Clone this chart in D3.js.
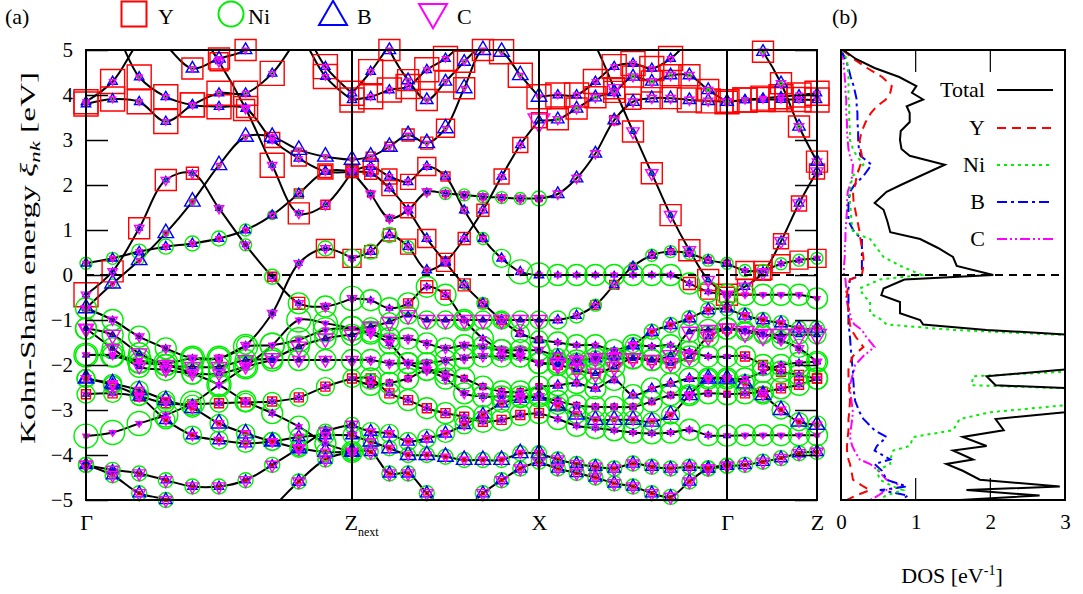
<!DOCTYPE html>
<html>
<head>
<meta charset="utf-8">
<script src="https://cdn.jsdelivr.net/npm/d3@7"></script>
<style>
  body { margin: 0; background: #fff; }
  text { font-family: "Liberation Serif", "Times New Roman", serif; fill: #000; }
</style>
</head>
<body>
<svg id="chart" width="1083" height="594"></svg>
<script>
// high symmetry points of the k-path
var kLabels = ["Γ", "Z", "X", "Γ", "Z"];
var kSubs = ["", "next", "", "", ""];
var kTicks = [0, 2.66, 4.53, 6.41, 7.31];
var kSteps = [10, 10, 10, 5];
var energyTicks = [-5, -4, -3, -2, -1, 0, 1, 2, 3, 4, 5];
var dosTicks = [0, 1, 2, 3];

// band energies (eV) at the k-points of each segment
// weights: [Y, Ni, B, C] marker sizes, one digit (constant) or one digit per k-point
var seg1Bands = [
  [3.85, 4.30, 5.20, 5.80, 6, 6, 6, 6, 5.60, 4.63, 4.04],
  [6, 6, 6, 6, 6, 6, 6, 6, 5.40, 4.41, 3.89],
  [3.80, 3.91, 3.85, 3.41, 3.78, 4.04, 4.04, 4.48, 5.30, 6, 6],
  [6, 6, 5.60, 5.10, 4.59, 4.81, 5.00, 5.60, 6, 6, 6],
  [6, 5.50, 4.40, 3.96, 3.78, 3.74, 3.70, 3.00, 2.59, 2.30, 2.30],
  [6, 6, 6, 6, 5.60, 4.74, 3.70, 2.44, 1.37, 1.56, 2.30],
  [-0.74, -0.19, 0.33, 0.93, 1.63, 2.44, 3.07, 3.07, 2.78, 2.63, 2.56],
  [-0.44, 0.08, 1.04, 2.11, 2.26, 1.48, 0.67, -0.04, -0.63, -0.70, -0.52],
  [0.26, 0.37, 0.52, 0.63, 0.70, 0.81, 1.00, 1.33, 1.81, 2.30, 2.30],
  [-0.74, -1.00, -1.37, -1.63, -1.85, -1.85, -1.56, -0.85, 0.26, 0.59, 0.37],
  [-1.19, -1.33, -1.74, -2.00, -2.04, -2.04, -1.89, -1.85, -1.59, -1.41, -1.33],
  [-1.19, -1.63, -2.04, -2.11, -2.19, -2.19, -2.04, -1.90, -1.89, -1.89, -1.89],
  [-1.78, -1.78, -1.90, -1.96, -1.85, -1.85, -1.59, -1.56, -1.44, -1.22, -1.19],
  [-1.78, -1.80, -1.95, -2.00, -2.19, -2.44, -2.81, -3.07, -3.37, -3.74, -3.93],
  [-3.58, -3.50, -3.30, -3.11, -2.85, -2.44, -2.04, -1.56, -1.00, -1.07, -1.19],
  [-2.65, -2.63, -2.70, -2.85, -2.87, -2.85, -2.83, -2.81, -2.72, -2.48, -2.30],
  [-2.30, -2.41, -2.56, -2.78, -2.96, -3.30, -3.52, -3.70, -3.85, -3.93, -3.93],
  [-2.30, -2.45, -2.70, -3.22, -3.56, -3.67, -3.74, -3.70, -3.60, -3.56, -3.56],
  [-4.22, -4.33, -4.41, -4.56, -4.70, -4.70, -4.56, -4.22, -3.85, -3.48, -3.33],
  [-4.22, -4.45, -4.85, -5.00, -5.40, -6, -6, -5.20, -4.59, -4.10, -3.93]
];
var seg1Weights = [
  ["8", "0", "3", "2"], ["8", "0", "3", "2"], ["8", "1", "3", "2"], ["7", "1", "4", "2"],
  ["88888865544", "1", "3", "2"], ["66666688733", "1", "2", "3"],
  ["1", "33322111111", "5", "2"], ["87774113421", "00011245778", "2", "3"],
  ["11111112354", "44555543321", "3", "2"], ["11111211166", "77777762156", "2", "3"],
  ["1", "7", "2", "5"], ["1", "7", "2", "4"], ["1", "8", "1", "2"], ["1", "7", "2", "2"],
  ["1", "8", "1", "2"], ["3", "6", "2", "2"], ["1", "6", "5", "3"], ["1", "6", "4", "3"],
  ["1", "5", "3", "4"], ["1", "5", "4", "4"]
];

var seg2Bands = [
  [4.04, 4.52, 5.10, 5.60, 6, 6, 6, 6, 6, 6, 6],
  [3.89, 3.96, 4.11, 4.19, 4.56, 4.81, 5.20, 5.60, 6, 6, 6],
  [6, 6, 5.00, 4.33, 3.89, 4.30, 4.74, 5.20, 6, 6, 6],
  [2.56, 2.63, 2.85, 3.11, 2.93, 3.26, 4.15, 5.00, 4.96, 4.44, 3.96],
  [2.30, 2.41, 2.19, 2.07, 2.41, 2.19, 1.44, 0.81, 0.37, 0.07, 0.00],
  [2.30, 2.26, 1.93, 1.44, 0.81, 0.28, -0.22, -0.63, -1.00, -1.30, -1.44],
  [2.30, 1.80, 1.26, 1.44, 1.85, 1.81, 1.78, 1.74, 1.72, 1.70, 1.70],
  [0.37, 0.52, 0.89, 0.63, 0.11, 0.30, 0.81, 1.44, 2.19, 2.89, 3.44],
  [-0.52, -0.56, -0.74, -0.63, -0.26, -0.44, -1.00, -1.41, -1.67, -1.81, -1.96],
  [-1.19, -1.15, -1.04, -0.89, -1.00, -1.00, -1.00, -1.00, -1.00, -1.00, -1.00],
  [-1.33, -1.26, -1.40, -1.41, -1.52, -1.63, -1.56, -1.60, -1.67, -1.67, -1.67],
  [-1.89, -1.89, -1.96, -1.96, -1.96, -1.90, -1.85, -1.81, -1.81, -1.81, -1.96],
  [-1.19, -1.30, -1.52, -1.96, -2.11, -2.30, -2.63, -2.70, -2.70, -2.70, -2.70],
  [-2.30, -2.44, -2.40, -2.30, -2.11, -2.19, -2.30, -2.48, -2.59, -2.59, -2.48],
  [-2.30, -2.30, -2.63, -2.78, -2.96, -3.07, -3.15, -3.26, -3.22, -3.11, -3.07],
  [-3.33, -3.48, -3.52, -3.70, -3.63, -3.52, -3.33, -3.10, -2.85, -2.75, -2.70],
  [-3.56, -3.70, -3.85, -4.00, -4.00, -4.04, -4.11, -4.11, -4.11, -3.96, -3.96],
  [-3.93, -3.93, -4.41, -4.41, -4.85, -5.20, -5.20, -4.85, -4.56, -4.30, -4.15]
];
var seg2Weights = [
  ["8", "0", "3", "2"], ["8", "0", "3", "2"], ["7", "1", "4", "2"],
  ["33344677888", "1", "5", "2"], ["45556322111", "00000124688", "3", "2"],
  ["44556643322", "00001234566", "3", "2"], ["2", "11112444445", "2", "3"],
  ["44451344555", "55542100000", "3", "22222222227"], ["00034311111", "7", "2", "2"],
  ["1", "6", "2", "5"], ["1", "7", "2", "3"], ["1", "7", "2", "3"], ["1", "7", "2", "3"],
  ["2", "7", "2", "2"], ["3", "7", "2", "2"], ["1", "6", "4", "3"], ["1", "5", "5", "3"],
  ["1", "5", "4", "4"]
];

var seg3Bands = [
  [3.96, 4.00, 4.00, 4.30, 4.63, 4.70, 4.59, 4.81, 5.20, 5.50, 5.80],
  [3.44, 3.46, 3.70, 3.95, 4.07, 4.41, 4.30, 4.44, 4.44, 4.11, 3.85],
  [1.70, 1.80, 2.15, 2.70, 3.44, 3.85, 3.93, 3.93, 3.89, 3.87, 3.85],
  [6, 6, 5.80, 5.10, 4.15, 3.19, 2.26, 1.33, 0.55, -0.11, -0.44],
  [0.00, 0.00, 0.00, 0.00, 0.00, 0.00, 0.00, 0.00, -0.19, -0.37, -0.44],
  [-1.00, -1.00, -0.90, -0.67, -0.22, 0.19, 0.44, 0.52, 0.48, 0.33, 0.26],
  [-1.44, -1.50, -1.56, -1.56, -1.67, -1.56, -1.59, -1.56, -1.70, -1.81, -1.81],
  [-1.67, -1.80, -1.90, -1.85, -1.78, -1.56, -1.26, -1.11, -0.96, -0.78, -0.74],
  [-1.96, -1.95, -1.90, -1.85, -1.85, -1.85, -1.89, -1.78, -1.26, -1.22, -1.19],
  [-1.96, -2.00, -2.10, -2.19, -2.04, -1.85, -1.89, -1.96, -1.81, -1.37, -1.19],
  [-2.48, -2.45, -2.40, -2.52, -2.33, -2.67, -2.52, -2.41, -2.30, -2.30, -2.30],
  [-2.70, -2.80, -2.90, -2.93, -2.93, -2.93, -2.81, -2.67, -2.67, -2.63, -2.65],
  [-2.70, -2.90, -3.10, -3.22, -3.22, -3.22, -3.26, -3.11, -2.67, -2.30, -2.30],
  [-3.07, -3.20, -3.35, -3.40, -3.45, -3.50, -3.52, -3.50, -3.44, -3.56, -3.57],
  [-3.96, -4.10, -4.20, -4.26, -4.30, -4.19, -4.26, -4.30, -4.26, -4.30, -4.24],
  [-4.15, -4.30, -4.40, -4.50, -4.63, -4.70, -4.85, -4.93, -4.59, -4.30, -4.24]
];
var seg3Weights = [
  ["8", "0", "3", "2"], ["7", "1", "4", "3"], ["22223577888", "2", "4", "3"],
  ["7", "1", "2", "4"], ["00000000455", "7", "2", "2"],
  ["00033222222", "66543344444", "3", "2"], ["1", "7", "2", "2"], ["1", "5", "4", "3"],
  ["1", "7", "2", "5"], ["3", "7", "2", "5"], ["1", "7", "3", "2"], ["2", "7", "2", "2"],
  ["1", "6", "5", "3"], ["1", "7", "2", "2"], ["1", "5", "4", "4"], ["1", "5", "4", "4"]
];

var seg4Bands = [
  [3.85, 3.89, 3.90, 3.90, 3.90, 3.89],
  [3.85, 3.89, 3.93, 3.96, 4.00, 4.04],
  [5.80, 5.50, 4.96, 4.26, 3.30, 2.52],
  [0.26, 0.10, 0.10, 0.25, 0.33, 0.37],
  [-0.44, -0.26, 0.05, 0.75, 1.59, 2.30],
  [-0.44, -0.44, -0.44, -0.44, -0.44, -0.52],
  [-0.74, -0.90, -1.00, -1.07, -1.19, -1.19],
  [-1.19, -1.26, -1.33, -1.33, -1.33, -1.33],
  [-1.19, -1.22, -1.30, -1.45, -1.63, -1.93],
  [-1.81, -1.81, -2.00, -2.15, -2.22, -2.30],
  [-2.30, -2.41, -2.67, -3.00, -3.26, -3.33],
  [-2.30, -2.30, -2.15, -2.00, -1.95, -1.93],
  [-2.65, -2.63, -2.60, -2.52, -2.44, -2.30],
  [-3.57, -3.56, -3.56, -3.56, -3.56, -3.56],
  [-4.24, -4.22, -4.15, -4.07, -3.96, -3.93]
];
var seg4Weights = [
  ["8", "1", "3", "2"], ["8", "1", "3", "2"], ["7", "1", "4", "3"], ["6", "4", "2", "2"],
  ["5", "2", "3", "4"], ["1", "7", "1", "2"], ["1", "5", "4", "3"], ["1", "6", "2", "6"],
  ["1", "6", "2", "3"], ["3", "7", "2", "2"], ["1", "6", "5", "3"], ["1", "7", "2", "2"],
  ["3", "7", "2", "2"], ["1", "7", "1", "2"], ["1", "5", "4", "4"]
];

// density of states (eV^-1)
var dosEnergy = [5.0, 4.8, 4.6, 4.4, 4.2, 4.05, 3.9, 3.75, 3.6, 3.4, 3.2, 3.0, 2.8, 2.65, 2.45, 2.2,
  2.0, 1.85, 1.6, 1.45, 1.2, 0.95, 0.8, 0.6, 0.4, 0.2, 0.0, -0.1, -0.3, -0.45, -0.6, -0.85, -1.0,
  -1.1, -1.22, -1.38, -1.6, -1.8, -2.0, -2.1, -2.25, -2.45, -2.55, -2.8, -3.05, -3.2, -3.45, -3.6,
  -3.8, -3.9, -4.1, -4.2, -4.35, -4.55, -4.7, -4.78, -4.9, -5.0];
var dosTotal = [0.03, 0.20, 0.45, 0.78, 1.01, 0.95, 1.10, 0.88, 0.92, 0.92, 0.80, 0.79, 0.81, 0.92,
  1.39, 1.06, 0.80, 0.61, 0.45, 0.57, 0.62, 0.66, 1.06, 1.30, 1.50, 1.55, 2.04, 0.85, 0.57, 0.54,
  0.79, 0.79, 1.06, 1.10, 1.95, 3.6, 3.6, 3.6, 3.6, 3.0, 1.95, 2.07, 3.6, 3.6, 3.0, 2.07, 2.18,
  1.63, 1.95, 1.50, 1.77, 1.41, 1.63, 1.86, 2.93, 1.68, 2.66, 1.59];
var dosY = [0.02, 0.17, 0.35, 0.55, 0.68, 0.66, 0.60, 0.48, 0.40, 0.33, 0.28, 0.25, 0.26, 0.28,
  0.26, 0.21, 0.19, 0.16, 0.17, 0.19, 0.22, 0.25, 0.26, 0.28, 0.30, 0.30, 0.28, 0.12, 0.09, 0.08,
  0.09, 0.10, 0.11, 0.12, 0.14, 0.20, 0.30, 0.16, 0.11, 0.10, 0.10, 0.11, 0.11, 0.12, 0.11, 0.10,
  0.10, 0.09, 0.08, 0.08, 0.10, 0.12, 0.14, 0.16, 0.30, 0.39, 0.20, 0.08];
var dosNi = [0.00, 0.08, 0.09, 0.10, 0.10, 0.10, 0.10, 0.11, 0.11, 0.11, 0.12, 0.12, 0.16, 0.21,
  0.30, 0.16, 0.13, 0.12, 0.12, 0.13, 0.14, 0.16, 0.39, 0.48, 0.57, 0.80, 1.08, 0.52, 0.25, 0.30,
  0.39, 0.39, 0.55, 0.61, 1.5, 3.6, 3.6, 3.6, 3.6, 3.6, 1.77, 1.75, 3.6, 3.6, 2.0, 1.59, 1.5,
  0.97, 0.92, 0.70, 0.66, 0.66, 0.48, 0.52, 0.70, 0.83, 0.60, 0.52];
var dosB = [0.00, 0.06, 0.10, 0.13, 0.17, 0.19, 0.21, 0.21, 0.22, 0.22, 0.23, 0.23, 0.24, 0.26,
  0.41, 0.30, 0.18, 0.12, 0.10, 0.10, 0.10, 0.18, 0.28, 0.28, 0.28, 0.28, 0.28, 0.12, 0.10, 0.10,
  0.10, 0.10, 0.10, 0.10, 0.11, 0.12, 0.13, 0.14, 0.15, 0.16, 0.16, 0.17, 0.17, 0.19, 0.25, 0.30,
  0.45, 0.61, 0.48, 0.45, 0.66, 0.45, 0.55, 0.61, 0.88, 0.52, 0.90, 0.80];
var dosC = [0.00, 0.03, 0.04, 0.05, 0.06, 0.06, 0.07, 0.07, 0.07, 0.08, 0.08, 0.09, 0.10, 0.12,
  0.16, 0.15, 0.12, 0.09, 0.08, 0.08, 0.07, 0.06, 0.06, 0.05, 0.05, 0.04, 0.04, 0.06, 0.07, 0.07,
  0.08, 0.12, 0.14, 0.18, 0.28, 0.34, 0.45, 0.30, 0.19, 0.18, 0.15, 0.12, 0.12, 0.14, 0.16, 0.15,
  0.13, 0.12, 0.15, 0.18, 0.25, 0.39, 0.50, 0.61, 0.83, 0.60, 0.50, 0.39];

var svg = d3.select("#chart");

var x = d3.scaleLinear().domain([kTicks[0], kTicks[kTicks.length - 1]]).range([86, 817]);
var y = d3.scaleLinear().domain([-5, 5]).range([500, 50]);
var xd = d3.scaleLinear().domain([0, 3]).range([841, 1065]);

var elements = [
  {name: "Y", color: "#ff0000", shape: "square"},
  {name: "Ni", color: "#00ee00", shape: "circle"},
  {name: "B", color: "#0000ff", shape: "up"},
  {name: "C", color: "#ff00ff", shape: "down"}
];

// marker path for a shape whose width is s pixels
function markerPath(shape, s) {
  if (shape == "square") return d3.symbol().type(d3.symbolSquare).size(s * s)();
  if (shape == "circle") return d3.symbol().type(d3.symbolCircle).size(Math.PI * s * s / 4)();
  return d3.symbol().type(d3.symbolTriangle).size(Math.sqrt(3) / 4 * s * s)();
}

function drawMarker(g, shape, color, cx, cy, s, lw) {
  g.append("path")
    .attr("d", markerPath(shape, s))
    .attr("transform", "translate(" + cx + "," + cy + ")" + (shape == "down" ? " rotate(180)" : ""))
    .attr("fill", "none")
    .attr("stroke", color)
    .attr("stroke-width", lw);
}

var defs = svg.append("defs");
defs.append("clipPath").attr("id", "clipA").append("rect")
  .attr("x", 86).attr("y", 50).attr("width", 731).attr("height", 450);
defs.append("clipPath").attr("id", "clipB").append("rect")
  .attr("x", 841).attr("y", 50).attr("width", 224).attr("height", 450);

// ---------- panel (a): band structure ----------
var segments = [
  {bands: seg1Bands, weights: seg1Weights},
  {bands: seg2Bands, weights: seg2Weights},
  {bands: seg3Bands, weights: seg3Weights},
  {bands: seg4Bands, weights: seg4Weights}
];

var bandLine = d3.line()
  .x(function (d) { return x(d[0]); })
  .y(function (d) { return y(d[1]); })
  .curve(d3.curveCatmullRom.alpha(0.5));

var lineLayer = svg.append("g").attr("clip-path", "url(#clipA)");
var markerLayers = elements.map(function () { return svg.append("g"); });

segments.forEach(function (seg, s) {
  var k0 = kTicks[s], k1 = kTicks[s + 1], n = kSteps[s];
  var ks = d3.range(n + 1).map(function (i) { return k0 + (k1 - k0) * i / n; });

  seg.bands.forEach(function (band, b) {
    var pts = band.map(function (e, i) { return [ks[i], e]; });
    lineLayer.append("path")
      .attr("d", bandLine(pts))
      .attr("fill", "none")
      .attr("stroke", "#000")
      .attr("stroke-width", 2);

    // projected character markers
    elements.forEach(function (el, j) {
      var code = seg.weights[b][j];
      band.forEach(function (e, i) {
        if (s > 0 && i == 0) return;
        if (e > 5.05 || e < -5.05) return;
        var digit = +(code.length == 1 ? code : code[i]);
        if (!digit) return;
        var size = el.shape == "square" || el.shape == "circle" ? digit * 3 : digit * 3.1;
        drawMarker(markerLayers[j], el.shape, el.color, x(ks[i]), y(e), size, 1.4);
      });
    });
  });
});

// Fermi level
svg.append("line")
  .attr("x1", 86).attr("x2", 817).attr("y1", y(0)).attr("y2", y(0))
  .attr("stroke", "#000").attr("stroke-width", 2).attr("stroke-dasharray", "8,6");

// high symmetry lines
svg.selectAll(".kline").data(kTicks.slice(1, -1)).enter().append("line")
  .attr("x1", function (d) { return x(d); }).attr("x2", function (d) { return x(d); })
  .attr("y1", 50).attr("y2", 500)
  .attr("stroke", "#000").attr("stroke-width", 2);

// energy axis with inner ticks
var yAxis = svg.append("g").attr("transform", "translate(86,0)")
  .call(d3.axisLeft(y).tickValues(energyTicks).tickSize(-22).tickPadding(13).tickFormat(d3.format("d")));
yAxis.select(".domain").remove();
yAxis.selectAll("line").attr("stroke", "#000").attr("stroke-width", 1.5);
yAxis.selectAll("text").style("font-size", "21px").style("font-family", "Liberation Serif, serif");

var yAxisR = svg.append("g").attr("transform", "translate(817,0)")
  .call(d3.axisRight(y).tickValues(energyTicks).tickSize(-22).tickFormat(""));
yAxisR.select(".domain").remove();
yAxisR.selectAll("line").attr("stroke", "#000").attr("stroke-width", 1.5);

// k-path labels
var kAxis = svg.append("g").attr("transform", "translate(0,500)")
  .call(d3.axisBottom(x).tickValues(kTicks).tickSize(0).tickPadding(14).tickFormat(""));
kAxis.select(".domain").remove();
kAxis.selectAll(".tick text").each(function (d, i) {
  var t = d3.select(this).style("font-size", "22px").style("font-family", "Liberation Serif, serif");
  t.append("tspan").text(kLabels[i]);
  if (kSubs[i]) {
    t.attr("text-anchor", "start").attr("x", -8);
    t.append("tspan").text(kSubs[i]).style("font-size", "12px").attr("dy", "6");
  }
});

svg.append("rect").attr("x", 86).attr("y", 50).attr("width", 731).attr("height", 450)
  .attr("fill", "none").attr("stroke", "#000").attr("stroke-width", 2);

// y axis title
var ylab = svg.append("text")
  .attr("transform", "translate(35,258) rotate(-90)")
  .attr("text-anchor", "middle")
  .attr("textLength", 372)
  .attr("lengthAdjust", "spacingAndGlyphs")
  .style("font-size", "22px");
ylab.append("tspan").text("Kohn-Sham energy ");
ylab.append("tspan").text("ξ").style("font-style", "italic");
ylab.append("tspan").text("nk").style("font-style", "italic").style("font-size", "15px").attr("dy", 5);
ylab.append("tspan").text(" [eV]").attr("dy", -5);

// legend on top
var legendX = [134, 231, 333, 433];
var legendTextX = [158, 248, 357, 457];
elements.forEach(function (el, j) {
  var size = el.shape == "square" || el.shape == "circle" ? 25 : 28;
  var cy = el.shape == "up" ? 17 : (el.shape == "down" ? 12 : 14);
  drawMarker(svg, el.shape, el.color, legendX[j], cy, size, 2);
  svg.append("text").attr("x", legendTextX[j]).attr("y", 24).text(el.name).style("font-size", "22px");
});

svg.append("text").attr("x", 5).attr("y", 24).text("(a)").style("font-size", "22px");
svg.append("text").attr("x", 832).attr("y", 24).text("(b)").style("font-size", "22px");

// ---------- panel (b): DOS ----------
var dosSeries = [
  {name: "Total", values: dosTotal, color: "#000", dash: null},
  {name: "Y", values: dosY, color: "#ff0000", dash: "9,6"},
  {name: "Ni", values: dosNi, color: "#00ee00", dash: "3,4"},
  {name: "B", values: dosB, color: "#0000ff", dash: "10,4,3,4"},
  {name: "C", values: dosC, color: "#ff00ff", dash: "10,3,2,3,2,3"}
];

var dosLine = d3.line()
  .x(function (d) { return xd(d[1]); })
  .y(function (d) { return y(d[0]); });

var dosLayer = svg.append("g").attr("clip-path", "url(#clipB)");
dosSeries.slice().reverse().forEach(function (ser) {
  dosLayer.append("path")
    .attr("d", dosLine(dosEnergy.map(function (e, i) { return [e, ser.values[i]]; })))
    .attr("fill", "none")
    .attr("stroke", ser.color)
    .attr("stroke-width", 2)
    .attr("stroke-dasharray", ser.dash);
});

svg.append("line")
  .attr("x1", 841).attr("x2", 1065).attr("y1", y(0)).attr("y2", y(0))
  .attr("stroke", "#000").attr("stroke-width", 2).attr("stroke-dasharray", "8,6");

var dAxis = svg.append("g").attr("transform", "translate(0,500)")
  .call(d3.axisBottom(xd).tickValues(dosTicks).tickSize(0).tickPadding(14).tickFormat(d3.format("d")));
dAxis.select(".domain").remove();
dAxis.selectAll("text").style("font-size", "21px").style("font-family", "Liberation Serif, serif");

[1, 2].forEach(function (v) {
  svg.append("line").attr("x1", xd(v)).attr("x2", xd(v)).attr("y1", 50).attr("y2", 72)
    .attr("stroke", "#000").attr("stroke-width", 1.2);
  svg.append("line").attr("x1", xd(v)).attr("x2", xd(v)).attr("y1", 478).attr("y2", 500)
    .attr("stroke", "#000").attr("stroke-width", 1.2);
});

svg.append("rect").attr("x", 841).attr("y", 50).attr("width", 224).attr("height", 450)
  .attr("fill", "none").attr("stroke", "#000").attr("stroke-width", 2);

// DOS legend
var legendRows = [90, 128, 165, 202, 239];
dosSeries.forEach(function (ser, i) {
  svg.append("text").attr("x", 985).attr("y", legendRows[i] + 7).attr("text-anchor", "end")
    .text(ser.name).style("font-size", "22px");
  svg.append("line").attr("x1", 997).attr("x2", 1053).attr("y1", legendRows[i]).attr("y2", legendRows[i])
    .attr("stroke", ser.color).attr("stroke-width", 2).attr("stroke-dasharray", ser.dash);
});

var dlab = svg.append("text").attr("x", 952).attr("y", 583).attr("text-anchor", "middle")
  .style("font-size", "22px");
dlab.append("tspan").text("DOS [eV");
dlab.append("tspan").text("-1").style("font-size", "14px").attr("dy", -8);
dlab.append("tspan").text("]").attr("dy", 8);
</script>
</body>
</html>
